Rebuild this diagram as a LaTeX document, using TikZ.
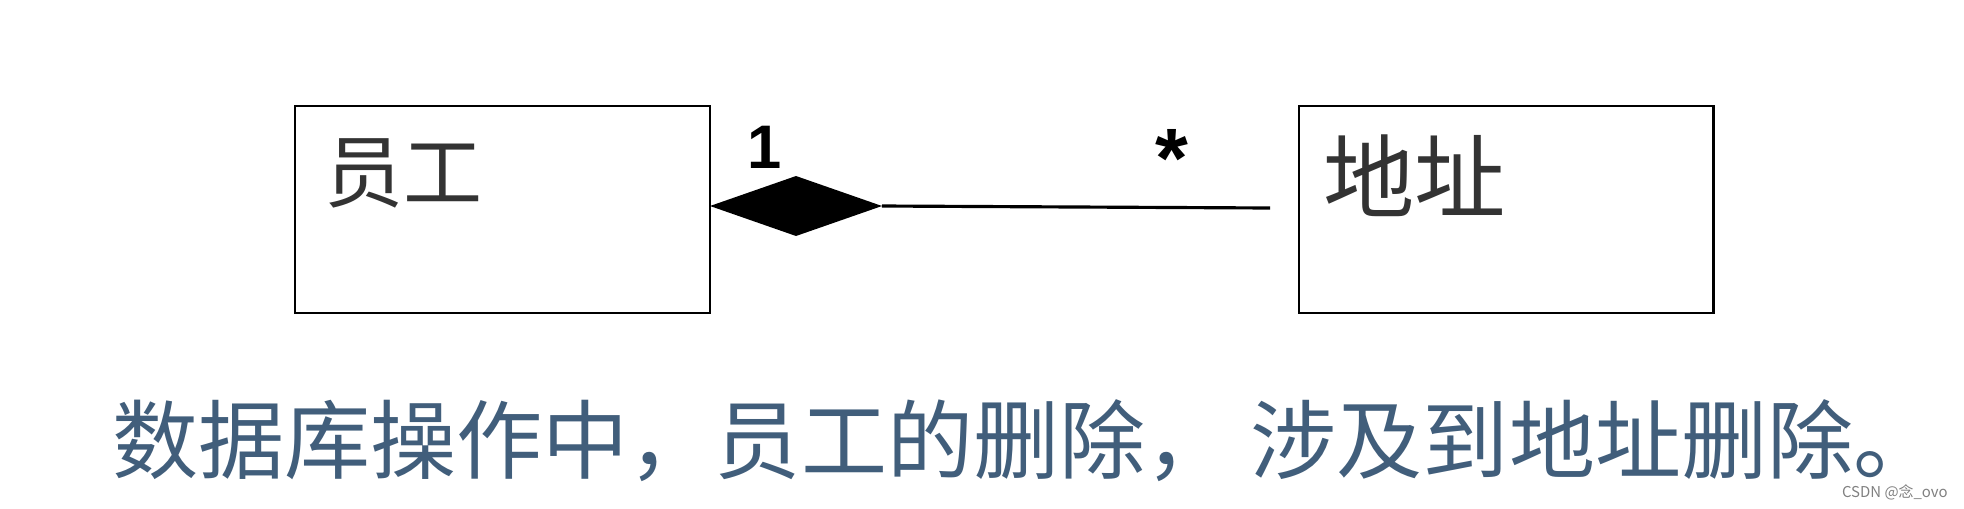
\documentclass[tikz,border=0pt]{standalone}
\usepackage{fontspec}
\usepackage{tikz}
\usetikzlibrary{shapes.geometric}
\newfontfamily\cjk{Noto Sans CJK SC}
\newfontfamily\multfont{Liberation Sans}
\definecolor{textgray}{RGB}{51,51,51}
\definecolor{noteblue}{RGB}{65,94,123}

\begin{document}
\begin{tikzpicture}[x=0.02cm, y=-0.02cm,
	umlclass/.style={draw, line width=1.2pt, minimum width=8.3cm, minimum height=4.14cm, inner sep=0pt},
	composite/.style={diamond, fill=black, inner sep=0pt, outer sep=0pt, minimum width=3.44cm, minimum height=1.2cm, aspect=2.87},
	mult/.style={font=\multfont\bfseries\fontsize{35}{36}\selectfont, inner sep=0pt, anchor=base},
	classname/.style={text=textgray, inner sep=0pt, anchor=base west}]
	\useasboundingbox (0,0) rectangle (1964,508);

	\node[umlclass] (emp) at (502.5,209.5) {};
	\node[umlclass] (addr) at (1506,209.5) {};

	\node[classname, font=\cjk\fontsize{45}{50}\selectfont] (empname) at (324,201) {员工};
	\node[classname, font=\cjk\fontsize{52}{56}\selectfont] (addrname) at (1323,211) {地址};

	% composition
	\node[composite] (agg) at (796,206) {};
	\coordinate (lend) at (1270,208);
	\draw[line width=1.8pt] (agg.east) -- (lend);

	\node[mult] (one) at (765,168) {1};
	\node[mult, font=\multfont\bfseries\fontsize{48}{50}\selectfont] (many) at (1172,187) {*};

	\node[text=noteblue, inner sep=0pt, anchor=base west, font=\cjk\fontsize{49}{52}\selectfont] (note) at (112,472) {数据库操作中，员工的删除， 涉及到地址删除。};
	\node[text=gray, inner sep=0pt, anchor=base east, font=\cjk\fontsize{8.5}{9}\selectfont] (mark) at (1948,497) {CSDN @念\_ovo};
\end{tikzpicture}
\end{document}
